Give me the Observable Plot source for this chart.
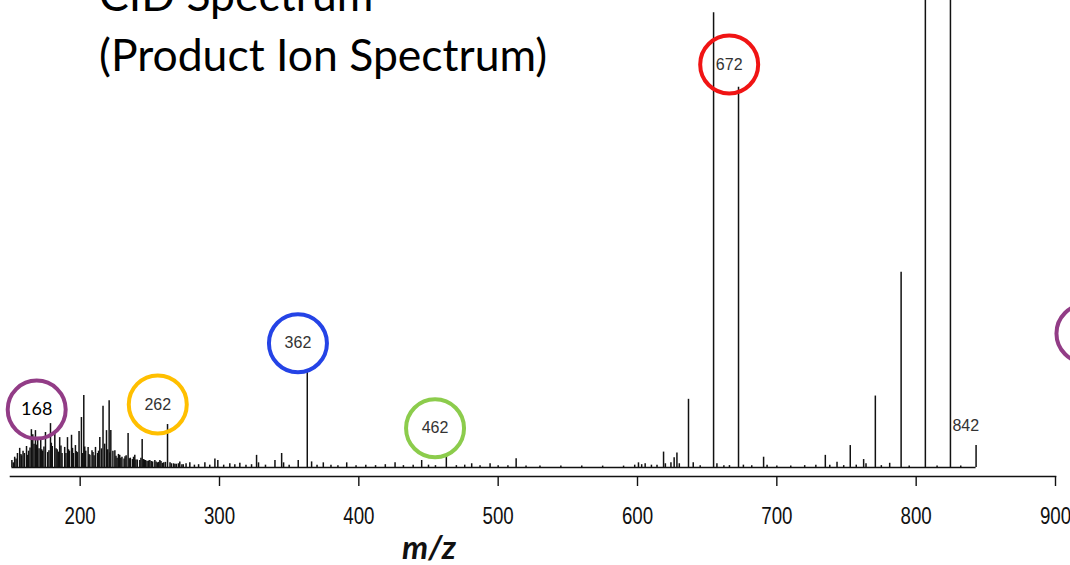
<!DOCTYPE html>
<html>
<head>
<meta charset="utf-8">
<script src="https://cdn.jsdelivr.net/npm/d3@7"></script>
<script src="https://cdn.jsdelivr.net/npm/@observablehq/plot@0.6"></script>
<style>
  body { margin: 0; background: #fff; }
  #wrap { position: relative; width: 1070px; height: 565px; overflow: hidden; background: #fff; }
  #chart { position: absolute; left: 0; top: 0; }
  .title { position: absolute; left: 99px; font-family: Lato, "Open Sans", sans-serif; font-size: 44.5px; line-height: 44px; color: #000; white-space: nowrap; }
  .xlabel { position: absolute; left: 402px; top: 530px; font-family: Lato, "Open Sans", sans-serif; font-style: italic; font-weight: 700; font-size: 33px; line-height: 33px; color: #111; }
</style>
</head>
<body>
<div id="wrap">
  <div id="chart"></div>
  <div class="title" style="top:-28px">CID Spectrum</div>
  <div class="title" style="top:32px">(Product Ion Spectrum)</div>
  <div class="xlabel">m/z</div>
</div>
<script>
// Main peaks: m/z and relative intensity (656 peak ≈ 97)
const peakMz = [152, 154, 156.6, 158, 160, 161.5, 163, 165, 166, 167.9, 169.5, 170.5, 171.7, 173, 175.1, 176.7, 178.7, 180, 181.8, 183.5, 185.3, 187, 188.9, 190.9, 192.3, 193.8, 195.2, 196.6, 198, 199.2, 200.9, 202.6, 204, 205.7, 207, 208.5, 210, 211, 212.5, 214.1, 215.3, 216.4, 217.6, 218.9, 220.8, 222, 223.5, 224.9, 226.5, 228.4, 230, 231.5, 233, 234.4, 236, 237.5, 239.2, 241, 242.8, 244.5, 246, 248, 250, 252, 253.6, 255.5, 257.2, 259, 262.7, 264.5, 267, 269, 271.5, 274, 276, 278.7, 282, 285, 289.5, 293, 296.7, 298.8, 303, 307.4, 311, 314.6, 319, 323, 326.6, 328, 333, 339.8, 344.6, 346, 350, 356.5, 363, 366.1, 370, 374.5, 380, 385, 391.3, 398, 405, 412, 419, 426, 432, 439, 445.1, 450, 455, 462.8, 470, 476, 481, 487, 494.2, 500, 507, 512.9, 520, 530, 545, 560, 575, 590, 598, 600.7, 603, 605.5, 610, 614, 618.7, 620, 624, 626.3, 628.3, 630, 636.6, 640, 645, 654.6, 657, 662, 666, 672.5, 676, 682, 690.5, 693, 700, 710, 720, 728, 734.8, 738, 743.2, 748, 752.7, 757, 762.3, 764, 770.7, 775, 781, 789.2, 795, 806.6, 815, 824.6, 832, 843];
const peakInt = [1.0, 1.8, 4.1, 2.5, 3.0, 4.5, 3.5, 8.1, 7.0, 7.9, 5.8, 4.0, 6.2, 3.5, 7.5, 3.2, 9.4, 4.5, 7.3, 3.8, 6.4, 3.0, 4.3, 6.4, 3.5, 6.9, 3.0, 4.7, 3.2, 7.7, 10.7, 15.4, 3.5, 4.3, 2.6, 3.6, 2.5, 4.3, 3.0, 6.4, 4.0, 13.1, 5.0, 7.9, 14.3, 7.9, 3.5, 3.6, 2.0, 2.6, 2.2, 1.8, 2.5, 7.3, 2.0, 1.7, 2.6, 1.6, 1.5, 6.0, 1.6, 1.3, 1.5, 1.2, 1.5, 1.0, 1.5, 0.9, 9.2, 1.0, 0.8, 0.7, 1.2, 0.6, 0.8, 1.0, 0.5, 0.6, 1.0, 0.5, 1.8, 1.5, 0.5, 0.8, 0.6, 0.9, 0.5, 0.6, 2.6, 1.0, 0.5, 1.5, 3.0, 1.0, 0.5, 1.5, 20.5, 1.2, 0.5, 1.0, 0.5, 0.4, 1.0, 0.4, 0.5, 0.4, 0.6, 1.0, 0.4, 0.5, 1.5, 0.5, 0.4, 2.6, 0.4, 0.5, 0.8, 0.4, 0.8, 0.4, 0.4, 1.9, 0.3, 0.3, 0.3, 0.3, 0.3, 0.3, 0.5, 1.0, 0.6, 0.8, 0.5, 0.5, 3.3, 0.8, 1.0, 2.1, 3.1, 0.8, 14.6, 1.0, 0.4, 97.4, 0.8, 0.4, 0.4, 81.4, 0.5, 0.4, 2.2, 0.5, 0.3, 0.3, 0.4, 0.5, 2.6, 0.5, 1.1, 0.4, 4.7, 0.5, 1.7, 0.8, 15.3, 0.4, 0.9, 41.8, 0.3, 130, 0.3, 125, 0.3, 4.7];

// Low-mass chemical noise ("grass") read from the dense region
const grassMz = [151, 153, 155, 157.5, 159, 162.3, 164, 166.9, 168.7, 172.4, 174, 177.6, 179.3, 182.7, 184.4, 186.2, 189.8, 191.6, 194.5, 197.3, 201.7, 203.3, 206.3, 209.2, 213.2, 219.8, 221.3, 225.7, 227.5, 229.2, 232.2, 235.2, 238.3, 240, 243.6, 245.3, 247, 249, 251, 254.5, 256.3, 258, 260, 261.2, 265.5, 268, 270.5, 273];
const grassInt = [1.5, 2.2, 3.0, 2.8, 3.5, 2.6, 4.2, 5.0, 4.8, 3.8, 4.4, 3.6, 5.2, 4.0, 3.3, 4.6, 3.0, 3.8, 4.1, 3.4, 3.0, 4.4, 2.8, 3.2, 3.5, 3.8, 3.1, 2.4, 2.8, 2.0, 2.3, 1.9, 2.2, 1.6, 2.0, 1.7, 1.5, 1.4, 1.3, 1.2, 1.1, 1.3, 1.0, 1.1, 0.8, 0.7, 0.8, 0.6];

// Circled annotations
const noteText = ["168", "262", "362", "462", "672", ""];
const noteMz = [168.8, 255.7, 356.3, 454.7, 665.8, 921.5];
const noteInt = [12.4, 13.5, 26.6, 8.4, 86.3, 28.7];
const noteColor = ["#923c86", "#ffbf00", "#2443e6", "#8ccc4c", "#f01414", "#923c86"];

// Uncircled label
const plainText = ["842"];
const plainMz = [835.6];
const plainInt = [9.0];

const xTicks = [200, 300, 400, 500, 600, 700, 800, 900];
const xDomain = [150, 900];

const peaks = peakMz.map((mz, i) => ({mz, intensity: peakInt[i]}))
  .concat(grassMz.map((mz, i) => ({mz, intensity: grassInt[i]})));
const notes = noteText.map((t, i) => ({t, mz: noteMz[i], y: noteInt[i], color: noteColor[i]}));
const plain = plainText.map((t, i) => ({t, mz: plainMz[i], y: plainInt[i]}));

const chart = Plot.plot({
  width: 1070,
  height: 565,
  marginTop: 0,
  marginLeft: 10,
  marginRight: 15,
  marginBottom: 89,
  insetBottom: 9,
  x: {domain: xDomain},
  y: {domain: [0, 100], axis: null},
  style: {background: "transparent", color: "#111"},
  marks: [
    Plot.frame({anchor: "bottom", stroke: "#111", strokeWidth: 1.6}),
    Plot.axisX({ticks: xTicks, tickSize: 10, tickPadding: 20, tickFormat: d => String(d), label: null,
      fontSize: 24, fontFamily: "'Liberation Sans', Arial, sans-serif", stroke: "#111", strokeWidth: 1.4}),
    Plot.ruleY([0], {x1: peakMz[0] - 1, x2: peakMz[peakMz.length - 1], stroke: "#111", strokeWidth: 1.6}),
    Plot.ruleX(peaks, {x: "mz", y1: 0, y2: "intensity", clip: true, stroke: "#111", strokeWidth: 1.5}),
    Plot.dot(notes, {x: "mz", y: "y", r: 29, stroke: "color", strokeWidth: 4, fill: "none"}),
    Plot.text(notes.filter(d => d.t === "168"), {x: "mz", y: "y", text: "t", fontSize: 18, fontFamily: "Lato", fill: "#000"}),
    Plot.text(notes.filter(d => d.t && d.t !== "168"), {x: "mz", y: "y", text: "t", fontSize: 16, fontFamily: "'Liberation Sans', Arial, sans-serif", fill: "#333"}),
    Plot.text(plain, {x: "mz", y: "y", text: "t", fontSize: 16, fontFamily: "'Liberation Sans', Arial, sans-serif", fill: "#333"})
  ]
});
// Tick labels in the reference are a condensed face: squeeze them horizontally
d3.select(chart).selectAll("g[aria-label='x-axis tick label'] text").each(function() {
  const t = this.getAttribute("transform") || "";
  this.setAttribute("transform", t + " scale(0.78,1)");
});
document.getElementById("chart").appendChild(chart);
</script>
</body>
</html>
